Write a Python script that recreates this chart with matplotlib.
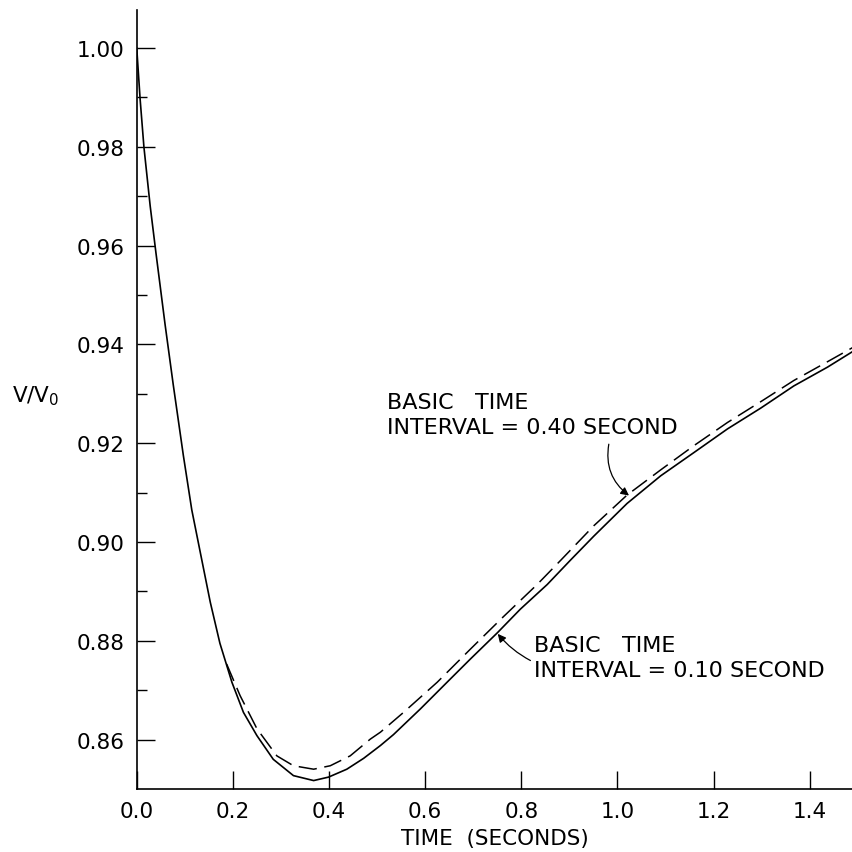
import numpy as np
import matplotlib
matplotlib.use('Agg')
import matplotlib.pyplot as plt
from matplotlib.ticker import FixedLocator

# basic time interval = 0.10 second (solid)
t_fine = [0.0, 0.007, 0.015, 0.028, 0.040, 0.059, 0.076, 0.097, 0.1145, 0.133,
          0.153, 0.173, 0.198, 0.222, 0.250, 0.284, 0.326, 0.368, 0.399, 0.437,
          0.472, 0.507, 0.534, 0.590, 0.6455, 0.694, 0.750, 0.798, 0.854, 0.902,
          0.951, 1.020, 1.090, 1.159, 1.229, 1.298, 1.367, 1.437, 1.49]
v_fine = [1.000, 0.9897, 0.9799, 0.968, 0.9585, 0.9440, 0.9318, 0.9175, 0.9065, 0.8975,
          0.8878, 0.8795, 0.8716, 0.8655, 0.8608, 0.856, 0.8527, 0.8517, 0.8524, 0.854,
          0.8562, 0.8588, 0.8610, 0.8662, 0.8716, 0.8763, 0.8816, 0.8864, 0.8914, 0.8963,
          0.9012, 0.9078, 0.9134, 0.9181, 0.9229, 0.9271, 0.9316, 0.9354, 0.9386]

# basic time interval = 0.40 second (dashed)
t_coarse = [0.187, 0.215, 0.25, 0.2915, 0.326, 0.368, 0.4026, 0.444, 0.486, 0.507,
            0.555, 0.625, 0.694, 0.763, 0.833, 0.882, 0.951, 1.020, 1.090, 1.159,
            1.229, 1.298, 1.367, 1.437, 1.49]
v_coarse = [0.8753, 0.8689, 0.8622, 0.8567, 0.8547, 0.854, 0.8547, 0.8567, 0.8601, 0.8615,
            0.8655, 0.8716, 0.8783, 0.8849, 0.8914, 0.8963, 0.9033, 0.9095, 0.9146, 0.9195,
            0.9242, 0.9284, 0.9327, 0.9365, 0.9394]

xticks = [0.0, 0.2, 0.4, 0.6, 0.8, 1.0, 1.2, 1.4]
xlabels = ['0.0', '0.2', '0.4', '0.6', '0.8', '1.0', '1.2', '1.4']
yticks = [0.86, 0.88, 0.90, 0.92, 0.94, 0.96, 0.98, 1.00]
ylabels = ['0.86', '0.88', '0.90', '0.92', '0.94', '0.96', '0.98', '1.00']
yminor = [0.87, 0.89, 0.91, 0.93, 0.95, 0.97, 0.99]

plt.rcParams['font.family'] = ['DejaVu Sans']

fig = plt.figure(figsize=(8.53, 8.53), dpi=100)
ax = fig.add_axes([0.1603, 0.0739, 0.8397, 0.9132])

ax.plot(t_fine, v_fine, color='black', lw=1.2)
ax.plot(t_coarse, v_coarse, color='black', lw=1.1, dashes=(12, 5))

ax.set_xlim(0, 1.49)
ax.set_ylim(0.85, 1.0077)

ax.spines['top'].set_visible(False)
ax.spines['right'].set_visible(False)
ax.spines['left'].set_linewidth(1.2)
ax.spines['bottom'].set_linewidth(1.2)

ax.set_xticks(xticks)
ax.set_xticklabels(xlabels)
ax.set_yticks(yticks)
ax.set_yticklabels(ylabels)
ax.yaxis.set_minor_locator(FixedLocator(yminor))
ax.tick_params(which='major', direction='in', length=13, width=1, labelsize=15.5, pad=9)
ax.tick_params(which='minor', direction='in', length=7, width=1)

ax.set_xlabel('TIME  (SECONDS)', fontsize=15.5, labelpad=5)
fig.text(11.7 / 853, 1 - 396 / 853, r'V/V$_\mathregular{0}$', fontsize=15.5, va='center', ha='left')

ax.text(0.5206, 0.9304, 'BASIC   TIME\nINTERVAL = 0.40 SECOND', fontsize=16,
        va='top', ha='left', linespacing=1.3)
ax.annotate('', xy=(1.024, 0.9094), xytext=(0.982, 0.9198),
            arrowprops=dict(arrowstyle='-|>', connectionstyle='arc3,rad=0.3',
                            lw=0.9, color='black', mutation_scale=12, shrinkA=0, shrinkB=0))

ax.text(0.826, 0.8812, 'BASIC   TIME\nINTERVAL = 0.10 SECOND', fontsize=16,
        va='top', ha='left', linespacing=1.3)
ax.annotate('', xy=(0.751, 0.8814), xytext=(0.819, 0.876),
            arrowprops=dict(arrowstyle='-|>', connectionstyle='arc3,rad=-0.1',
                            lw=0.9, color='black', mutation_scale=12, shrinkA=0, shrinkB=0))

fig.savefig('out.png', dpi=100)
